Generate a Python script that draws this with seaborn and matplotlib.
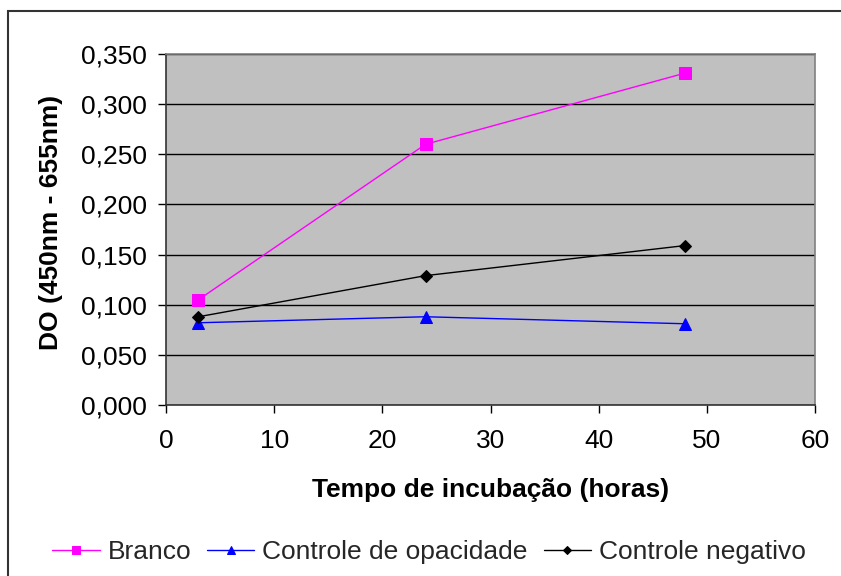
import matplotlib
matplotlib.use("Agg")
import matplotlib.pyplot as plt
import matplotlib.patches as mpatches
from matplotlib.ticker import FuncFormatter, MultipleLocator
import seaborn as sns
import pandas as pd

# Incubation times (hours) and optical density readings per series
tempo = [3, 24, 48]
branco = [0.105, 0.260, 0.331]
controle_opacidade = [0.082, 0.088, 0.081]
controle_negativo = [0.088, 0.129, 0.159]

series_names = ["Branco", "Controle de opacidade", "Controle negativo"]
series_values = [branco, controle_opacidade, controle_negativo]

df = pd.DataFrame(
    [(t, v, name) for name, vals in zip(series_names, series_values)
     for t, v in zip(tempo, vals)],
    columns=["tempo", "do", "serie"],
)

sns.set_theme(style="white")
plt.rcParams["font.family"] = ["Liberation Sans", "DejaVu Sans"]

FS = 19
colors = {"Branco": "#FF00FF", "Controle de opacidade": "#0000FF",
          "Controle negativo": "#000000"}
markers = {"Branco": "s", "Controle de opacidade": "^",
           "Controle negativo": "D"}
msizes = {"Branco": 8, "Controle de opacidade": 8, "Controle negativo": 6}

fig = plt.figure(figsize=(8.41, 5.76), dpi=100)
ax = fig.add_axes([166 / 841, 1 - 405 / 576, (815 - 166) / 841, (405 - 54) / 576])
ax.set_facecolor("#C0C0C0")

for name in series_names:
    sub = df[df["serie"] == name]
    sns.lineplot(data=sub, x="tempo", y="do", ax=ax, color=colors[name],
                 marker=markers[name], markersize=msizes[name],
                 markeredgecolor=colors[name], linewidth=1.0, label=name,
                 zorder=3)

ax.set_xlim(0, 60)
ax.set_ylim(0, 0.35)
ax.xaxis.set_major_locator(MultipleLocator(10))
ax.yaxis.set_major_locator(MultipleLocator(0.05))
ax.yaxis.set_major_formatter(FuncFormatter(lambda v, _: f"{v:.3f}".replace(".", ",")))
ax.grid(axis="y", color="black", linewidth=1.0)
ax.grid(axis="x", visible=False)
ax.set_axisbelow(True)

for side in ["top", "right"]:
    ax.spines[side].set_color("#808080")
    ax.spines[side].set_linewidth(1.2)
for side in ["left", "bottom"]:
    ax.spines[side].set_color("#333333")
    ax.spines[side].set_linewidth(1.2)

ax.tick_params(axis="both", direction="out", length=6, width=1,
               color="black", labelsize=FS, labelcolor="black",
               left=True, bottom=True)
ax.tick_params(axis="y", pad=8)
ax.tick_params(axis="x", pad=11)

ax.set_xlabel("Tempo de incubação (horas)", fontsize=FS, fontweight="bold",
              color="black", va="center")
ax.set_ylabel("DO (450nm - 655nm)", fontsize=FS, fontweight="bold",
              color="black", va="center")
ax.xaxis.set_label_coords(0.5, (405 - 490) / 351)
ax.yaxis.set_label_coords((51 - 166) / 649, 0.52)

handles, labels = ax.get_legend_handles_labels()
ax.get_legend().remove()
fig.legend(handles, labels, loc="center", bbox_to_anchor=(429 / 841, 1 - 552 / 576),
           ncol=3, frameon=False, fontsize=FS, handlelength=1.8,
           handletextpad=0.3, columnspacing=0.6, markerscale=0.75)

# Outer chart border
fig.patches.append(mpatches.Rectangle((8 / 841, -0.05), 1.1, 1 - 11 / 576 + 0.05,
                                      transform=fig.transFigure, fill=False,
                                      edgecolor="#333333", linewidth=1.5))

fig.savefig("out.png", dpi=100)
